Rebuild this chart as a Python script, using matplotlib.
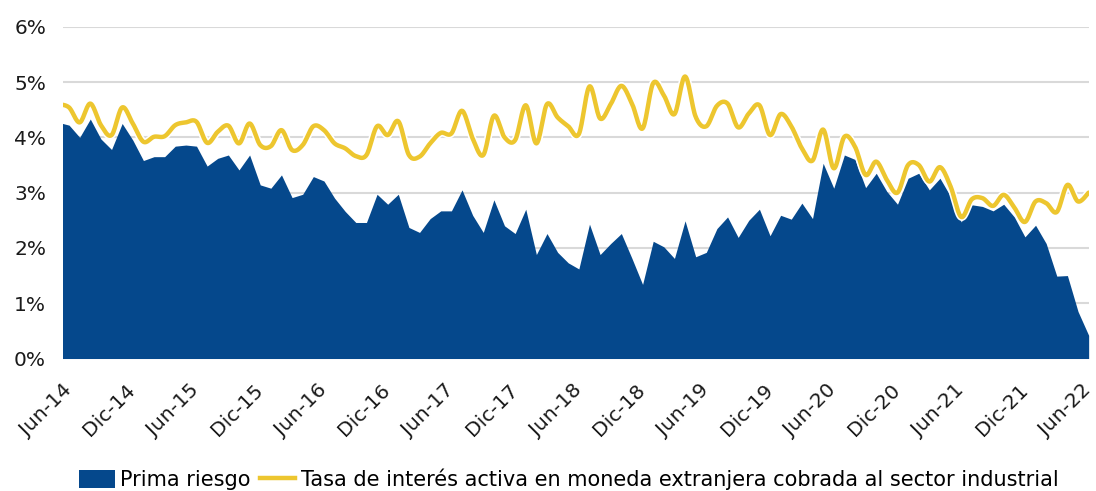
import numpy as np
import matplotlib
matplotlib.use("Agg")
import matplotlib.pyplot as plt
import matplotlib.patheffects as pe
import matplotlib.transforms as mtrans
from matplotlib.patches import Patch
from matplotlib.lines import Line2D

# data (monthly, May-14 .. Jun-22; May-14 only fills the left edge)
prima_riesgo = [
    4.27, 4.22, 4.00, 4.33, 3.97, 3.78, 4.25, 3.95, 3.58, 3.65, 3.65, 3.84,
    3.86, 3.84, 3.48, 3.62, 3.68, 3.41, 3.68, 3.14, 3.08, 3.32, 2.91, 2.97,
    3.29, 3.21, 2.90, 2.66, 2.46, 2.46, 2.97, 2.79, 2.97, 2.37, 2.28, 2.53,
    2.67, 2.67, 3.05, 2.59, 2.28, 2.87, 2.40, 2.26, 2.70, 1.88, 2.26, 1.92,
    1.73, 1.62, 2.43, 1.88, 2.08, 2.26, 1.81, 1.34, 2.12, 2.02, 1.81, 2.49,
    1.84, 1.92, 2.35, 2.56, 2.19, 2.50, 2.70, 2.22, 2.59, 2.52, 2.81, 2.53,
    3.53, 3.08, 3.68, 3.60, 3.09, 3.35, 3.02, 2.79, 3.26, 3.35, 3.05, 3.26,
    2.93, 2.47, 2.78, 2.75, 2.67, 2.79, 2.56, 2.20, 2.41, 2.08, 1.49, 1.50,
    0.85, 0.42,
]
tasa_activa = [
    4.60, 4.54, 4.27, 4.61, 4.22, 4.04, 4.54, 4.25, 3.92, 4.01, 4.02, 4.22,
    4.27, 4.28, 3.90, 4.10, 4.21, 3.89, 4.25, 3.86, 3.84, 4.13, 3.77, 3.86,
    4.20, 4.13, 3.89, 3.80, 3.66, 3.68, 4.20, 4.04, 4.29, 3.68, 3.65, 3.89,
    4.08, 4.07, 4.48, 3.98, 3.68, 4.39, 4.00, 3.95, 4.58, 3.89, 4.60, 4.36,
    4.20, 4.06, 4.92, 4.34, 4.60, 4.93, 4.61, 4.16, 4.98, 4.76, 4.42, 5.10,
    4.37, 4.20, 4.57, 4.61, 4.18, 4.43, 4.58, 4.04, 4.42, 4.20, 3.80, 3.58,
    4.14, 3.44, 4.01, 3.83, 3.32, 3.56, 3.23, 3.00, 3.50, 3.50, 3.20, 3.46,
    3.11, 2.56, 2.88, 2.90, 2.76, 2.96, 2.73, 2.47, 2.84, 2.81, 2.65, 3.14,
    2.84, 3.00,
]
tick_labels = ["Jun-14", "Dic-14", "Jun-15", "Dic-15", "Jun-16", "Dic-16",
               "Jun-17", "Dic-17", "Jun-18", "Dic-18", "Jun-19", "Dic-19",
               "Jun-20", "Dic-20", "Jun-21", "Dic-21", "Jun-22"]
y_ticks = [0, 1, 2, 3, 4, 5, 6]

BLUE = "#05488C"
YELLOW = "#EDC62F"

x = np.arange(len(prima_riesgo)) - 1  # Jun-14 = 0


def smooth(xs, ys, n=16):
    # excel-like smoothed line (catmull-rom bezier)
    pts = np.column_stack([xs, ys]).astype(float)
    p = np.vstack([pts[0], pts, pts[-1]])
    out = []
    t = np.linspace(0, 1, n, endpoint=False)[:, None]
    for i in range(1, len(p) - 2):
        p0, p1, p2, p3 = p[i - 1], p[i], p[i + 1], p[i + 2]
        c1 = p1 + (p2 - p0) / 6
        c2 = p2 - (p3 - p1) / 6
        seg = ((1 - t) ** 3) * p1 + 3 * ((1 - t) ** 2) * t * c1 \
            + 3 * (1 - t) * t ** 2 * c2 + t ** 3 * p2
        out.append(seg)
    out.append(p[-2][None, :])
    out = np.vstack(out)
    return out[:, 0], out[:, 1]


plt.rcParams["font.family"] = ["DejaVu Sans"]

fig = plt.figure(figsize=(10.96, 4.91), dpi=100)
ax = fig.add_axes([0.0572, 0.2698, 0.9361, 0.6758])

ax.fill_between(x, prima_riesgo, 0, color=BLUE, lw=0, zorder=2)
sx, sy = smooth(x, tasa_activa)
ax.plot(sx, sy, color=YELLOW, lw=3.2, zorder=3, solid_capstyle="round",
        path_effects=[pe.Stroke(linewidth=5.5, foreground="white"), pe.Normal()])

ax.set_xlim(-0.6, 96)
ax.set_ylim(0, 6)
ax.set_yticks(y_ticks)
ax.set_yticklabels([f"{v}%" for v in y_ticks])
ax.set_xticks(np.arange(0, 97, 6))
ax.set_xticklabels(tick_labels, rotation=45, ha="right", va="top",
                   rotation_mode="anchor")
ax.grid(axis="y", color="#D9D9D9", lw=1.5, zorder=0)
ax.set_axisbelow(True)
for s in ax.spines.values():
    s.set_visible(False)
ax.tick_params(axis="both", length=0, labelsize=14.5, colors="#1a1a1a")
ax.tick_params(axis="y", pad=12)
ax.tick_params(axis="x", pad=16)

# nudge the rotated labels a little to the left
shift = mtrans.ScaledTranslation(-5 / 72, 0, fig.dpi_scale_trans)
for lab in ax.get_xticklabels():
    lab.set_transform(lab.get_transform() + shift)

handles = [Patch(facecolor=BLUE, edgecolor="none"),
           Line2D([0], [0], color=YELLOW, lw=3.2)]
fig.legend(handles, ["Prima riesgo",
                     "Tasa de interés activa en moneda extranjera cobrada al sector industrial"],
           loc="center", bbox_to_anchor=(0.519, 0.024), ncol=2, frameon=False,
           fontsize=15, handlelength=1.7, handletextpad=0.25, columnspacing=0.45,
           handleheight=0.95)

fig.savefig("out.png", dpi=100)
